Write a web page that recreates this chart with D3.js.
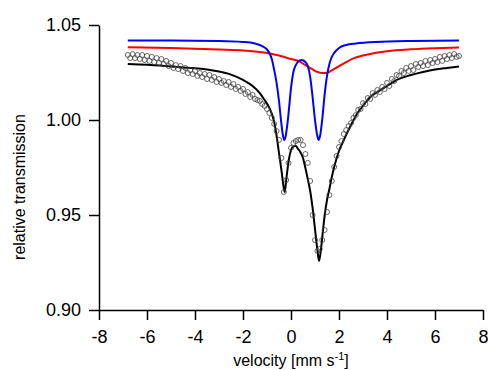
<!DOCTYPE html>
<html>
<head>
<meta charset="utf-8">
<script src="https://cdn.jsdelivr.net/npm/d3@7"></script>
<style>
  html, body { margin: 0; padding: 0; background: #fff; }
  svg { display: block; font-family: "Liberation Sans", Arial, sans-serif; }
</style>
</head>
<body>
<svg id="chart" width="488" height="370"></svg>
<script>
// ---- data ----
const xTicks = [-8, -6, -4, -2, 0, 2, 4, 6, 8];
const yTicks = [0.90, 0.95, 1.00, 1.05];

// measured points (velocity in mm/s, relative transmission)
const velocity = [
 -6.8,-6.7,-6.6,-6.5,-6.4,-6.3,-6.2,-6.1,-6.0,-5.9,-5.8,-5.7,-5.6,-5.5,-5.4,-5.3,-5.2,-5.1,-5.0,-4.9,
 -4.8,-4.7,-4.6,-4.5,-4.4,-4.3,-4.2,-4.1,-4.0,-3.9,-3.8,-3.7,-3.6,-3.5,-3.4,-3.3,-3.2,-3.1,-3.0,-2.9,
 -2.8,-2.7,-2.6,-2.5,-2.4,-2.3,-2.2,-2.1,-2.0,-1.9,-1.8,-1.7,-1.6,-1.5,-1.4,-1.3,-1.2,-1.1,-1.0,-0.9,
 -0.8,-0.7,-0.6,-0.5,-0.4,-0.3,-0.2,-0.1,0.0,0.1,0.2,0.3,0.4,0.5,0.6,0.7,0.8,0.9,1.0,1.1,
 1.2,1.3,1.4,1.5,1.6,1.7,1.8,1.9,2.0,2.1,2.2,2.3,2.4,2.5,2.6,2.7,2.8,2.9,3.0,3.1,
 3.2,3.3,3.4,3.5,3.6,3.7,3.8,3.9,4.0,4.1,4.2,4.3,4.4,4.5,4.6,4.7,4.8,4.9,5.0,5.1,
 5.2,5.3,5.4,5.5,5.6,5.7,5.8,5.9,6.0,6.1,6.2,6.3,6.4,6.5,6.6,6.7,6.8,6.9,7.0
];
const transmission = [
 1.0342,1.0326,1.0347,1.0326,1.0342,1.0321,1.0342,1.0316,1.0337,1.0311,
 1.0332,1.0305,1.0326,1.0300,1.0321,1.0295,1.0311,1.0284,1.0300,1.0274,
 1.0289,1.0268,1.0284,1.0258,1.0274,1.0247,1.0263,1.0242,1.0258,1.0232,
 1.0247,1.0226,1.0242,1.0216,1.0237,1.0211,1.0226,1.0200,1.0216,1.0195,
 1.0205,1.0184,1.0200,1.0174,1.0189,1.0163,1.0174,1.0153,1.0163,1.0137,
 1.0147,1.0121,1.0132,1.0111,
 1.0105,1.0100,1.0084,1.0074,1.0058,1.0037,
 1.0011,0.9979,0.9942,0.9895,0.9800,0.9621,0.9684,0.9774,0.9853,0.9879,
 0.9889,0.9895,0.9895,0.9868,0.9821,0.9774,0.9679,0.9500,0.9368,0.9311,
 0.9321,0.9368,0.9421,0.9516,0.9605,0.9679,0.9753,0.9811,0.9858,0.9889,
 0.9926,0.9947,0.9968,0.9984,1.0011,1.0026,
 1.0053,1.0058,1.0089,1.0084,1.0116,1.0111,1.0142,1.0132,1.0158,1.0147,
 1.0174,1.0163,1.0195,1.0179,1.0216,1.0205,1.0237,1.0232,1.0258,1.0247,
 1.0274,1.0258,1.0284,1.0263,1.0295,1.0279,1.0300,1.0284,1.0311,1.0289,
 1.0316,1.0300,1.0321,1.0305,1.0332,1.0311,1.0337,1.0321,1.0342,1.0326,
 1.0347,1.0332,1.0337
];

// total fit (black)
const fitV = [-6.8,-6.0,-5.0,-4.0,-3.5,-3.0,-2.5,-2.0,-1.6,-1.3,-1.1,-0.9,-0.8,-0.7,-0.6,-0.5,-0.4,-0.3,-0.26,-0.2,-0.1,0.0,0.1,0.2,0.3,0.4,0.5,0.6,0.7,0.8,0.9,1.0,1.1,1.17,1.25,1.3,1.4,1.5,1.6,1.7,1.8,2.0,2.2,2.5,2.8,3.0,3.3,3.6,4.0,4.5,5.0,5.5,6.0,6.5,7.0];
const fitT = [1.0295,1.0291,1.0282,1.0272,1.0266,1.0255,1.0239,1.0211,1.0179,1.0142,1.0105,1.0063,1.0032,0.9989,0.9916,0.9826,0.9737,0.9642,0.9621,0.9684,0.9784,0.9842,0.9861,0.9863,0.9847,0.9829,0.9800,0.9747,0.9689,0.9626,0.9537,0.9426,0.9316,0.9258,0.9321,0.9379,0.9495,0.9579,0.9637,0.9700,0.9753,0.9837,0.9895,0.9974,1.0042,1.0074,1.0121,1.0147,1.0179,1.0216,1.0237,1.0253,1.0266,1.0274,1.0281];

// doublet component (blue)
const blueV = [-6.8,-5.0,-3.0,-2.0,-1.5,-1.2,-1.0,-0.9,-0.8,-0.7,-0.6,-0.5,-0.4,-0.34,-0.28,-0.22,-0.15,-0.1,0.0,0.1,0.2,0.3,0.44,0.6,0.7,0.8,0.9,1.0,1.09,1.15,1.21,1.3,1.4,1.5,1.6,1.7,1.8,2.0,2.3,2.7,3.5,5.0,7.0];
const blueT = [1.0418,1.0418,1.0416,1.0411,1.0403,1.0389,1.0371,1.0353,1.0321,1.0263,1.0195,1.0100,0.9979,0.9921,0.9895,0.9916,0.9979,1.0037,1.0168,1.0253,1.0289,1.0308,1.0316,1.0305,1.0284,1.0226,1.0121,1.0000,0.9921,0.9895,0.9916,1.0000,1.0132,1.0232,1.0295,1.0332,1.0353,1.0379,1.0395,1.0403,1.0411,1.0416,1.0418];

// broad component (red)
const redV = [-6.8,-5.0,-4.0,-3.0,-2.0,-1.4,-1.0,-0.5,0.0,0.3,0.6,0.9,1.1,1.3,1.45,1.7,2.0,2.3,2.6,3.0,3.5,4.0,5.0,6.0,7.0];
const redT = [1.0383,1.0379,1.0375,1.0371,1.0366,1.0359,1.0353,1.0339,1.0321,1.0311,1.0289,1.0266,1.0253,1.0247,1.0247,1.0261,1.0284,1.0305,1.0324,1.0339,1.0353,1.0362,1.0372,1.0378,1.0382];

// ---- drawing ----
const svg = d3.select("#chart");
const x = d3.scaleLinear().domain([-8, 8]).range([99, 483]);
const y = d3.scaleLinear().domain([0.90, 1.05]).range([310, 25]);

const line = d3.line().x(d => x(d[0])).y(d => y(d[1])).curve(d3.curveMonotoneX);

svg.append("path").datum(fitV.map((v, i) => [v, fitT[i]]))
  .attr("d", line).attr("fill", "none").attr("stroke", "#000").attr("stroke-width", 2);

svg.append("g").selectAll("circle").data(velocity.map((v, i) => [v, transmission[i]]))
  .join("circle")
  .attr("cx", d => x(d[0])).attr("cy", d => y(d[1])).attr("r", 2.5)
  .attr("fill", "none").attr("stroke", "#444").attr("stroke-width", 0.8);

svg.append("path").datum(redV.map((v, i) => [v, redT[i]]))
  .attr("d", line).attr("fill", "none").attr("stroke", "#ff0000").attr("stroke-width", 2);

svg.append("path").datum(blueV.map((v, i) => [v, blueT[i]]))
  .attr("d", line).attr("fill", "none").attr("stroke", "#0000ff").attr("stroke-width", 2);

// axes
const yAxis = d3.axisLeft(y).tickValues(yTicks).tickFormat(d3.format(".2f"))
  .tickSize(10).tickSizeOuter(0).tickPadding(8);
const gy = svg.append("g").attr("transform", "translate(99,0)").call(yAxis);

const xAxis = d3.axisBottom(x).tickValues(xTicks).tickFormat(d => String(d))
  .tickSize(10).tickSizeOuter(0).tickPadding(10);
const gx = svg.append("g").attr("transform", "translate(0,310)").call(xAxis);

[gx, gy].forEach(g => {
  g.select(".domain").attr("stroke", "#000").attr("stroke-width", 1.5);
  g.selectAll(".tick line").attr("stroke", "#000").attr("stroke-width", 1.5);
  g.selectAll(".tick text").attr("fill", "#000").style("font-size", "18px")
    .style("font-family", "'Liberation Sans', Arial, sans-serif");
});

// axis titles
svg.append("text")
  .attr("transform", "translate(25,187) rotate(-90)")
  .attr("text-anchor", "middle")
  .style("font-size", "16px")
  .text("relative transmission");

const xt = svg.append("text")
  .attr("x", 291).attr("y", 366)
  .attr("text-anchor", "middle")
  .style("font-size", "16px");
xt.append("tspan").text("velocity [mm s");
xt.append("tspan").attr("dy", -6).style("font-size", "11px").text("-1");
xt.append("tspan").attr("dy", 6).text("]");
</script>
</body>
</html>
